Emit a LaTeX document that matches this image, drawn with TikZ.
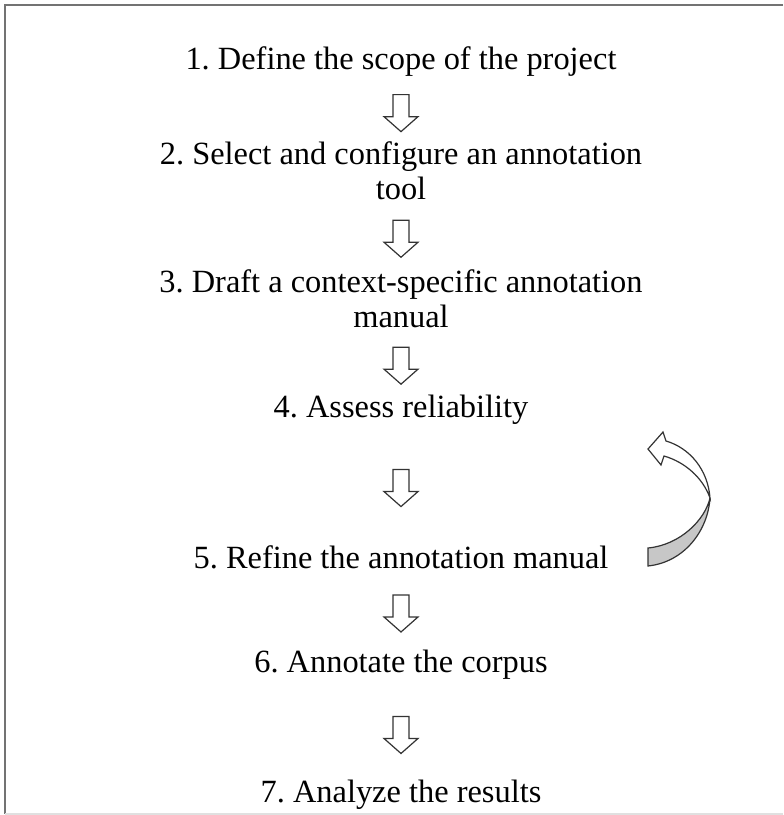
\documentclass[tikz,border=0pt]{standalone}
\usepackage{fontspec}
\setmainfont{Liberation Serif}
\usetikzlibrary{calc}
\begin{document}
\frenchspacing
\begin{tikzpicture}[x=0.5pt,y=-0.5pt,
  stepnode/.style={font=\fontsize{16.2}{17.5}\selectfont, align=center, inner sep=0pt, text=black},
  arrline/.style={draw=black!80, line width=0.6pt, fill=white, line join=miter},
  frameline/.style={draw=black!55, line width=1pt},
  downarr/.pic={\path[arrline] (-8,-18.5) -- (8,-18.5) -- (8,3.5) -- (17,3.5) -- (0,18.5) -- (-17,3.5) -- (-8,3.5) -- cycle;}]
\useasboundingbox (0,0) rectangle (783,815);
\draw[frameline] (783,5) -- (5,5) -- (5,814);
\draw[draw=black!12, line width=1pt] (5,814) -- (783,814);

\node[stepnode] (t1) at (401,62) {1. Define the scope of the project};
\node[stepnode] (t2) at (401,170.5) {2. Select and configure an annotation\\tool};
\node[stepnode] (t3) at (401,299) {3. Draft a context-specific annotation\\manual};
\node[stepnode] (t4) at (401,410) {4. Assess reliability};
\node[stepnode] (t5) at (401,557) {5. Refine the annotation manual};
\node[stepnode] (t6) at (401,665) {6. Annotate the corpus};
\node[stepnode] (t7) at (401,795) {7. Analyze the results};

\pic at ($(t1.south)!0.5!(t2.north)+(0,4)$) {downarr};
\pic at ($(t2.south)!0.5!(t3.north)+(0,4)$) {downarr};
\pic at ($(t3.south)!0.5!(t4.north)+(0,4)$) {downarr};
\pic at ($(t4.south)!0.5!(t5.north)+(0,3)$) {downarr};
\pic at ($(t5.south)!0.5!(t6.north)+(0,4)$) {downarr};
\pic at ($(t6.south)!0.5!(t7.north)+(0,5)$) {downarr};

% curved return arrow (twisted ribbon)
\path[arrline, fill=black!22] (648,548) -- (648,566)
  .. controls (685,562) and (708,530) .. (710,498)
  .. controls (705,520) and (680,545) .. (648,548) -- cycle;
\path[arrline] (710,498)
  .. controls (708,470) and (690,448) .. (666,441)
  -- (663,432) -- (648,449) -- (661,465) -- (664,456)
  .. controls (685,462) and (703,478) .. (710,498) -- cycle;
\end{tikzpicture}
\end{document}
